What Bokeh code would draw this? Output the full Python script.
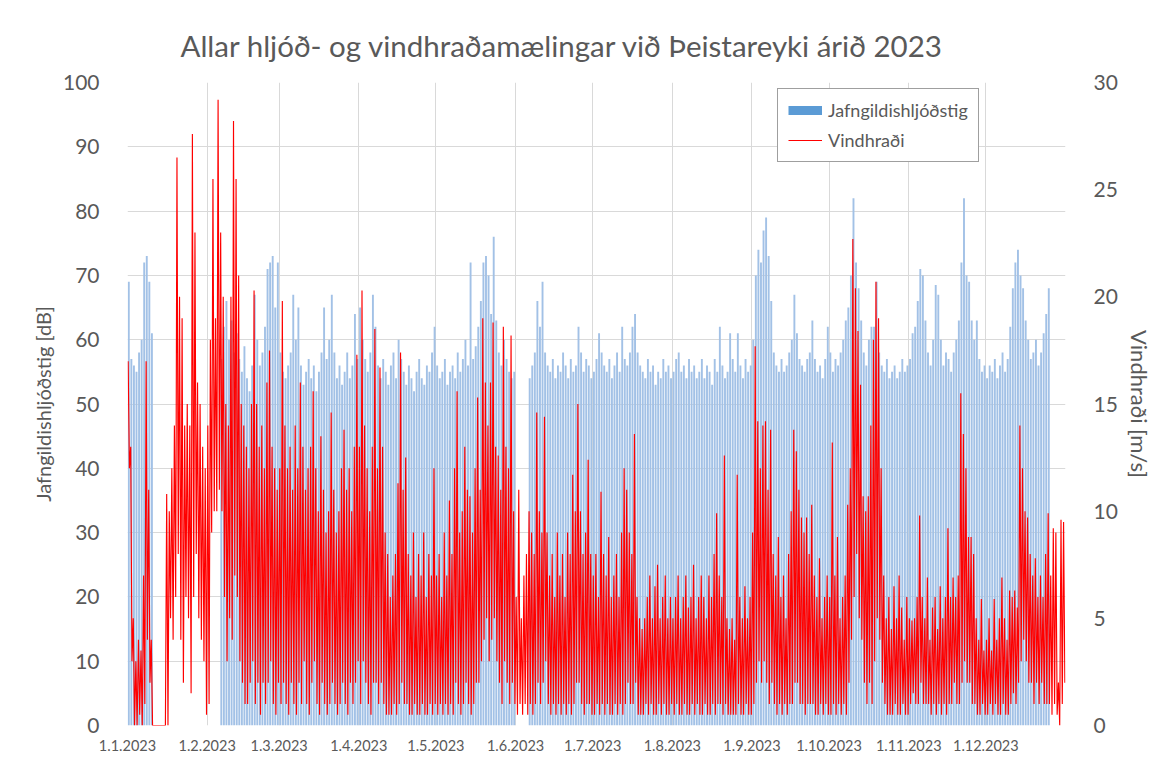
from bokeh.plotting import figure
from bokeh.models import Range1d, LinearAxis, FixedTicker, Legend, LegendItem, ColumnDataSource
from bokeh.embed import file_html
from bokeh.resources import INLINE

# ---------------- data ----------------
MONTH_LABELS = ["1.1.2023", "1.2.2023", "1.3.2023", "1.4.2023", "1.5.2023", "1.6.2023",
                "1.7.2023", "1.8.2023", "1.9.2023", "1.10.2023", "1.11.2023", "1.12.2023"]
MONTH_DAYS = [31, 28, 31, 30, 31, 30, 31, 31, 30, 31, 30, 31]

# Jafngildishljóðstig [dB], daily (0 = no measurement)
noise_jan = [69, 57, 56, 55, 58, 60, 72, 73, 69, 61, 0, 0, 0, 0, 0, 0, 0, 0, 0, 0, 0, 0, 0, 0, 0, 0, 0, 0, 0, 0, 0]
noise_feb = [0, 0, 0, 0, 0, 57, 62, 66, 60, 63, 58, 61, 57, 55, 59, 54, 52, 56, 67, 60, 56, 58, 62, 71, 72, 73, 65, 72]
noise_mar = [58, 55, 54, 56, 58, 67, 60, 65, 56, 53, 55, 57, 54, 56, 52, 55, 58, 65, 57, 60, 67, 58, 54, 56, 53, 55, 58, 54, 56, 64, 57]
noise_apr = [65, 60, 57, 55, 58, 67, 62, 56, 54, 57, 55, 53, 56, 58, 54, 60, 57, 55, 53, 56, 54, 52, 55, 57, 54, 53, 56, 55, 58, 62]
noise_may = [56, 54, 55, 57, 53, 55, 56, 54, 58, 55, 57, 60, 56, 72, 57, 59, 62, 66, 72, 73, 70, 64, 76, 63, 58, 56, 60, 57, 55, 54, 55]
noise_jun = [0, 0, 0, 0, 0, 54, 56, 58, 66, 62, 69, 58, 56, 55, 57, 54, 56, 55, 58, 56, 54, 57, 55, 56, 62, 58, 55, 57, 56, 54]
noise_jul = [55, 57, 61, 58, 56, 55, 57, 54, 56, 58, 55, 62, 57, 56, 58, 62, 64, 58, 56, 55, 54, 57, 55, 56, 53, 55, 54, 57, 55, 56, 54]
noise_aug = [55, 57, 58, 55, 56, 54, 57, 55, 56, 54, 55, 57, 54, 56, 55, 53, 57, 55, 62, 56, 54, 55, 61, 57, 55, 61, 56, 54, 57, 55, 56]
noise_sep = [60, 70, 74, 72, 77, 79, 73, 66, 58, 56, 55, 57, 55, 56, 58, 60, 67, 61, 57, 56, 55, 57, 58, 63, 57, 55, 56, 54, 57, 62]
noise_oct = [58, 55, 57, 56, 58, 60, 63, 65, 70, 82, 72, 68, 63, 58, 56, 60, 62, 62, 69, 58, 56, 55, 57, 54, 55, 56, 54, 55, 57, 55, 56]
noise_nov = [57, 61, 62, 66, 71, 70, 63, 58, 56, 60, 68.5, 67, 60, 56, 58, 57, 55, 58, 60, 63, 72, 82, 70, 69, 63, 60, 63, 57, 55, 56]
noise_dec = [54, 56, 55, 57, 54, 56, 58, 55, 57, 62, 68, 72, 74, 70, 68, 63, 60, 57, 58, 60, 56, 58, 61, 64, 68, 0, 0, 0, 0, 0, 0]

# Vindhraði [m/s], daily maximum
wmax_jan = [17, 13, 5, 3, 4, 3.5, 7, 17, 11, 4, 0, 0, 0, 0, 0, 10.8, 10, 12, 14, 26.5, 20, 19, 14, 15, 14, 27.6, 23, 16, 15, 13, 12]
wmax_feb = [14, 18, 25.5, 19, 29.2, 23, 20, 15, 14, 20, 28.2, 25.5, 21, 15, 14, 13, 12, 15, 20.3, 15, 13, 14, 12, 16, 17.5, 13, 12, 11]
wmax_mar = [12, 19.8, 14, 12, 13, 11, 14, 12, 16, 13, 11, 12, 13, 15.6, 12, 10, 13.5, 11, 9, 10, 14.6, 11, 9, 10, 12, 13.8, 11, 12, 10, 13, 17.3]
wmax_apr = [13, 20.3, 14, 12, 10, 13, 18.5, 12, 16.7, 13, 9, 8, 6, 7, 8, 11.3, 17.4, 11, 12.5, 8, 7, 9, 6, 8, 7, 9, 6, 8, 7, 12]
wmax_may = [7, 8, 6, 9, 7, 10.5, 8, 12, 15.6, 9, 10, 13, 11, 10.7, 9, 12, 15.3, 11, 19, 16, 14, 16, 18.8, 13, 12.6, 11, 18.6, 13, 12, 18.2, 10]
wmax_jun = [6, 11, 5, 7, 8, 10, 9, 8, 14.6, 10, 9, 14.4, 9, 7, 8, 6, 9, 7, 8, 6, 9, 8, 11.7, 10, 15, 10, 8, 9, 12.4, 8]
wmax_jul = [7, 8, 6, 10.9, 8, 7, 8.8, 6, 7, 8, 6, 9, 12, 11, 9, 8, 13.6, 6, 5, 4.5, 5, 6, 7, 5, 6.5, 7.5, 5, 6, 7, 5, 6]
wmax_aug = [5, 6, 7, 5, 6, 7, 5.5, 6, 7.5, 5, 6, 7, 6, 5, 7, 6, 8, 9.9, 7, 6, 12.6, 5, 4.5, 5, 4, 11.7, 6, 5, 6.5, 5, 6]
wmax_sep = [9, 17.7, 14.2, 12, 14, 14.2, 11, 13.8, 8, 7, 8.8, 6, 7, 5, 8, 10, 13.8, 12.8, 11, 9.7, 9, 9.7, 8, 10.3, 7, 6, 7.8, 5, 6, 7]
wmax_oct = [6, 13.2, 7, 8.8, 5, 6, 7, 10.3, 12, 22.7, 20.4, 18.4, 15.9, 10.7, 10, 10.7, 14, 18, 20.7, 19, 12, 7, 5, 6, 4.5, 6.5, 5, 7, 5.5, 4, 6]
wmax_nov = [5, 4.9, 5, 6, 9.8, 6, 5, 6.9, 4, 5.5, 6, 4.5, 6.5, 5, 6, 9.2, 6, 6.9, 6, 7, 15.5, 13.6, 12, 8.8, 8.8, 8, 5, 4, 5.9, 3.5]
wmax_dec = [4, 5, 3.5, 5.9, 4, 5, 6.9, 5, 4, 6.3, 6, 6.3, 5.5, 14, 12, 10, 9.7, 8, 7, 7.8, 6, 7, 6, 8, 9.9, 7, 9.2, 9, 2, 9.6, 9.5]

# Vindhraði [m/s], daily minimum
wmin_jan = [12, 3, 0, 0, 0.5, 0, 1, 4, 2, 0, 0, 0, 0, 0, 0, 0, 5, 4, 6, 8, 4, 2, 6, 5, 1.5, 6, 8, 5, 4, 3, 0.5]
wmin_feb = [1, 9, 10, 10, 11, 10, 6, 3, 5, 4, 7, 6, 3, 2, 1, 1, 2, 3, 1, 2, 0.5, 2, 1, 2, 3, 1, 0.5, 2]
wmin_mar = [1, 2, 1, 0.5, 2, 1, 0.5, 2, 1, 3, 1, 0.5, 2, 3, 1, 0.5, 2, 1, 0.5, 1, 2, 1, 0.5, 1, 2, 1, 0.5, 2, 1, 2, 3]
wmin_apr = [1, 3, 2, 1, 0.5, 2, 2, 1, 2, 1, 0.5, 0.5, 0.5, 1, 0.5, 1, 2, 1, 1, 0.5, 0.5, 1, 0.5, 0.5, 1, 0.5, 0.5, 1, 0.5, 1]
wmin_may = [0.5, 1, 0.5, 1, 0.5, 1, 0.5, 2, 1, 0.5, 1, 2, 1, 0.5, 1, 2, 2, 3, 4, 5, 3, 4, 5, 3, 2, 1, 3, 2, 1, 2, 1]
wmin_jun = [0.5, 1, 0.5, 1, 0.5, 1, 0.5, 1, 2, 1, 2, 3, 1, 0.5, 1, 0.5, 1, 0.5, 1, 0.5, 1, 0.5, 1, 2, 2, 1, 0.5, 1, 1, 0.5]
wmin_jul = [0.5, 1, 0.5, 1, 0.5, 1, 0.5, 0.5, 1, 0.5, 1, 0.5, 1, 2, 1, 1, 2, 0.5, 0.5, 0.5, 1, 0.5, 1, 0.5, 0.5, 1, 0.5, 1, 0.5, 0.5, 1]
wmin_aug = [0.5, 1, 0.5, 0.5, 1, 0.5, 0.5, 1, 0.5, 1, 0.5, 0.5, 1, 0.5, 0.5, 1, 0.5, 1, 1, 0.5, 1, 0.5, 0.5, 0.5, 0.5, 1, 0.5, 0.5, 1, 0.5, 0.5]
wmin_sep = [1, 2, 3, 2, 3, 2, 1, 2, 1, 0.5, 1, 0.5, 1, 0.5, 1, 1, 2, 2, 1, 1, 0.5, 1, 1, 1, 0.5, 0.5, 1, 0.5, 1, 0.5]
wmin_oct = [0.5, 1, 0.5, 1, 0.5, 1, 0.5, 2, 4, 6, 8, 5, 4, 2, 1, 2, 1, 3, 5, 4, 2, 1, 0.5, 0.5, 0.5, 1, 0.5, 0.5, 1, 0.5, 0.5]
wmin_nov = [1, 1.5, 1, 1, 2, 1, 1, 1, 0.5, 1, 0.5, 1, 0.5, 1, 0.5, 1, 1, 2, 1, 1, 2, 3, 2, 2, 1, 1, 0.5, 0.5, 1, 0.5]
wmin_dec = [0.5, 1, 0.5, 1, 0.5, 0.5, 1, 0.5, 0.5, 1, 1.5, 1, 2, 3, 4, 3, 2, 2, 1, 2, 1, 2, 1, 1, 1, 0.5, 1, 0.5, 0, 1, 2]

DB_TICKS = [0, 10, 20, 30, 40, 50, 60, 70, 80, 90, 100]
WIND_TICKS = [0, 5, 10, 15, 20, 25, 30]

# ---------------- assemble ----------------
noise = (noise_jan + noise_feb + noise_mar + noise_apr + noise_may + noise_jun +
         noise_jul + noise_aug + noise_sep + noise_oct + noise_nov + noise_dec)
wmax = (wmax_jan + wmax_feb + wmax_mar + wmax_apr + wmax_may + wmax_jun +
        wmax_jul + wmax_aug + wmax_sep + wmax_oct + wmax_nov + wmax_dec)
wmin = (wmin_jan + wmin_feb + wmin_mar + wmin_apr + wmin_may + wmin_jun +
        wmin_jul + wmin_aug + wmin_sep + wmin_oct + wmin_nov + wmin_dec)
n_days = sum(MONTH_DAYS)

month_starts = []
acc = 0
for m in MONTH_DAYS:
    month_starts.append(acc)
    acc += m

bar_x = [d + 0.5 for d, v in enumerate(noise) if v > 0]
bar_top = [v for v in noise if v > 0]
bars = ColumnDataSource(dict(x=bar_x, top=bar_top))

wx, wy = [], []
for d, (hi, lo) in enumerate(zip(wmax, wmin)):
    wx += [d + 0.25, d + 0.75]
    wy += [hi, lo]
wind = ColumnDataSource(dict(x=wx, y=wy))

FONT = "Lato"
GRAY = "#595959"

p = figure(width=1169, height=760, output_backend="svg", toolbar_location=None,
           x_range=Range1d(0, n_days), y_range=Range1d(0, 100),
           min_border_left=127, min_border_right=104, min_border_top=82, min_border_bottom=35)
p.extra_y_ranges = {"wind": Range1d(0, 30)}
p.outline_line_color = None
p.background_fill_color = "white"

p.vbar(x="x", top="top", width=0.74, bottom=0, source=bars,
       fill_color="#a2c1e6", line_color=None)
wind_r = p.line(x="x", y="y", source=wind, y_range_name="wind",
                line_color="#ff0000", line_width=1.15)
legend_blue = p.line(x=[float("nan")], y=[float("nan")], line_color="#5b9bd5", line_width=9)

# axes
p.xaxis.ticker = FixedTicker(ticks=month_starts)
p.xaxis.major_label_overrides = {s: lab for s, lab in zip(month_starts, MONTH_LABELS)}
p.yaxis.ticker = FixedTicker(ticks=DB_TICKS)
p.yaxis.axis_label = "Jafngildishljóðstig [dB]"

right = LinearAxis(y_range_name="wind", ticker=FixedTicker(ticks=WIND_TICKS),
                   axis_label="Vindhraði [m/s]")
p.add_layout(right, "right")

for ax in [p.xaxis[0], p.yaxis[0], right]:
    ax.axis_line_color = None
    ax.major_tick_line_color = None
    ax.minor_tick_line_color = None
    ax.major_label_text_font = FONT
    ax.major_label_text_color = GRAY
    ax.axis_label_text_font = FONT
    ax.axis_label_text_color = GRAY
    ax.axis_label_text_font_style = "normal"
    ax.axis_label_text_font_size = "20px"

p.xaxis.major_label_text_font_size = "14.5px"
p.xaxis.major_label_standoff = 8
p.yaxis.major_label_text_font_size = "21px"
p.yaxis.major_label_standoff = 22
p.yaxis.axis_label_standoff = 5
right.major_label_text_font_size = "21px"
right.major_label_standoff = 22
right.axis_label_standoff = 5
right.axis_label_text_font_size = "22px"

p.xgrid.ticker = FixedTicker(ticks=month_starts)
p.ygrid.ticker = FixedTicker(ticks=DB_TICKS)
p.xgrid.grid_line_color = "#d9d9d9"
p.ygrid.grid_line_color = "#d9d9d9"
p.xgrid.level = "underlay"
p.ygrid.level = "underlay"

# title
p.title.text = "Allar hljóð- og vindhraðamælingar við Þeistareyki árið 2023"
p.title.text_font = FONT
p.title.text_font_size = "29.5px"
p.title.text_font_style = "normal"
p.title.text_color = GRAY
p.title.align = "left"
p.title.offset = 53
p.title.standoff = 39

legend = Legend(items=[LegendItem(label="Jafngildishljóðstig", renderers=[legend_blue]),
                       LegendItem(label="Vindhraði", renderers=[wind_r])],
                location=(650, 563), orientation="vertical",
                border_line_color="#404040", border_line_width=1,
                background_fill_color="white", background_fill_alpha=1,
                padding=10, spacing=8, label_height=20, glyph_height=20, glyph_width=34,
                label_standoff=6, label_text_font=FONT, label_text_font_size="18px",
                label_text_color=GRAY, margin=0)
p.add_layout(legend)

open("out.html", "w").write(file_html(p, INLINE))
